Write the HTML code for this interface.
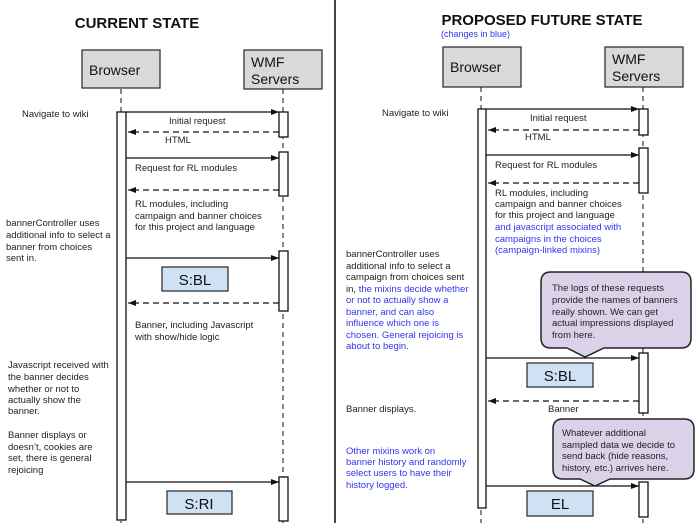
<!DOCTYPE html>
<html><head><meta charset="utf-8"><style>
html,body{margin:0;padding:0;background:#fff;}
svg{display:block;font-family:"Liberation Sans",sans-serif;}
.t{font-size:9.5px;fill:#222;}
.b{font-size:9.5px;fill:#3333ee;}
</style></head><body>
<svg width="700" height="523" viewBox="0 0 700 523" xmlns="http://www.w3.org/2000/svg">
<defs>
<marker id="ah" markerWidth="8" markerHeight="6" refX="8" refY="3" orient="auto" markerUnits="userSpaceOnUse"><path d="M0,0 L8,3 L0,6 z" fill="#111"/></marker>
</defs>
<line x1="335" y1="0" x2="335" y2="523" stroke="#444" stroke-width="2"/>

<!-- LEFT -->
<text x="137" y="28" text-anchor="middle" font-size="15" font-weight="bold" fill="#111">CURRENT STATE</text>
<rect x="82" y="50" width="78" height="38" fill="#d9d9d9" stroke="#333" stroke-width="1.3"/>
<text x="89" y="75" font-size="14" fill="#111">Browser</text>
<rect x="244" y="50" width="78" height="39" fill="#d9d9d9" stroke="#333" stroke-width="1.3"/>
<text x="251" y="67" font-size="14" fill="#111">WMF</text>
<text x="251" y="84" font-size="14" fill="#111">Servers</text>
<line x1="121" y1="89" x2="121" y2="523" stroke="#111" stroke-dasharray="5,4"/>
<line x1="283" y1="89" x2="283" y2="523" stroke="#111" stroke-dasharray="5,4"/>
<rect x="117" y="112" width="9" height="408" fill="#fff" stroke="#111" stroke-width="1.3"/>
<rect x="279" y="112" width="9" height="25" fill="#fff" stroke="#111" stroke-width="1.3"/>
<rect x="279" y="152" width="9" height="44" fill="#fff" stroke="#111" stroke-width="1.3"/>
<rect x="279" y="251" width="9" height="60" fill="#fff" stroke="#111" stroke-width="1.3"/>
<rect x="279" y="477" width="9" height="44" fill="#fff" stroke="#111" stroke-width="1.3"/>

<line x1="126" y1="112" x2="279" y2="112" stroke="#111" stroke-width="1.3" marker-end="url(#ah)"/>
<line x1="279" y1="132" x2="128" y2="132" stroke="#111" stroke-width="1.3" stroke-dasharray="6,4" marker-end="url(#ah)"/>
<line x1="126" y1="158" x2="279" y2="158" stroke="#111" stroke-width="1.3" marker-end="url(#ah)"/>
<line x1="279" y1="190" x2="128" y2="190" stroke="#111" stroke-width="1.3" stroke-dasharray="6,4" marker-end="url(#ah)"/>
<line x1="126" y1="258" x2="279" y2="258" stroke="#111" stroke-width="1.3" marker-end="url(#ah)"/>
<line x1="279" y1="303" x2="128" y2="303" stroke="#111" stroke-width="1.3" stroke-dasharray="6,4" marker-end="url(#ah)"/>
<line x1="126" y1="482" x2="279" y2="482" stroke="#111" stroke-width="1.3" marker-end="url(#ah)"/>

<text class="t" x="22" y="117">Navigate to wiki</text>
<text class="t" x="169" y="124">Initial request</text>
<text class="t" x="165" y="143">HTML</text>
<text class="t" x="135" y="171">Request for RL modules</text>
<text class="t" x="135" y="207">RL modules, including</text>
<text class="t" x="135" y="219">campaign and banner choices</text>
<text class="t" x="135" y="230">for this project and language</text>
<text class="t" x="6" y="226">bannerController uses</text>
<text class="t" x="6" y="238">additional info to select a</text>
<text class="t" x="6" y="250">banner from choices</text>
<text class="t" x="6" y="261">sent in.</text>
<rect x="162" y="267" width="66" height="24" fill="#cfe2f3" stroke="#333" stroke-width="1.3"/>
<text x="195" y="285" text-anchor="middle" font-size="15" fill="#111">S:BL</text>
<text class="t" x="135" y="328">Banner, including Javascript</text>
<text class="t" x="135" y="340">with show/hide logic</text>
<text class="t" x="8" y="368">Javascript received with</text>
<text class="t" x="8" y="380">the banner decides</text>
<text class="t" x="8" y="392">whether or not to</text>
<text class="t" x="8" y="403">actually show the</text>
<text class="t" x="8" y="414">banner.</text>
<text class="t" x="8" y="438">Banner displays or</text>
<text class="t" x="8" y="450">doesn’t, cookies are</text>
<text class="t" x="8" y="461">set, there is general</text>
<text class="t" x="8" y="473">rejoicing</text>
<rect x="167" y="491" width="65" height="23" fill="#cfe2f3" stroke="#333" stroke-width="1.3"/>
<text x="199" y="509" text-anchor="middle" font-size="15" fill="#111">S:RI</text>

<!-- RIGHT -->
<text x="542" y="25" text-anchor="middle" font-size="15" font-weight="bold" fill="#111">PROPOSED FUTURE STATE</text>
<text x="441" y="37" font-size="9" fill="#3333ee">(changes in blue)</text>
<rect x="443" y="47" width="78" height="40" fill="#d9d9d9" stroke="#333" stroke-width="1.3"/>
<text x="450" y="72" font-size="14" fill="#111">Browser</text>
<rect x="605" y="47" width="78" height="40" fill="#d9d9d9" stroke="#333" stroke-width="1.3"/>
<text x="612" y="64" font-size="14" fill="#111">WMF</text>
<text x="612" y="81" font-size="14" fill="#111">Servers</text>
<line x1="481" y1="87" x2="481" y2="523" stroke="#111" stroke-dasharray="5,4"/>
<line x1="643" y1="87" x2="643" y2="523" stroke="#111" stroke-dasharray="5,4"/>
<rect x="478" y="109" width="8" height="399" fill="#fff" stroke="#111" stroke-width="1.3"/>
<rect x="639" y="109" width="9" height="26" fill="#fff" stroke="#111" stroke-width="1.3"/>
<rect x="639" y="148" width="9" height="45" fill="#fff" stroke="#111" stroke-width="1.3"/>
<rect x="639" y="353" width="9" height="60" fill="#fff" stroke="#111" stroke-width="1.3"/>
<rect x="639" y="482" width="9" height="35" fill="#fff" stroke="#111" stroke-width="1.3"/>

<line x1="486" y1="109" x2="639" y2="109" stroke="#111" stroke-width="1.3" marker-end="url(#ah)"/>
<line x1="639" y1="130" x2="488" y2="130" stroke="#111" stroke-width="1.3" stroke-dasharray="6,4" marker-end="url(#ah)"/>
<line x1="486" y1="155" x2="639" y2="155" stroke="#111" stroke-width="1.3" marker-end="url(#ah)"/>
<line x1="639" y1="183" x2="488" y2="183" stroke="#111" stroke-width="1.3" stroke-dasharray="6,4" marker-end="url(#ah)"/>
<line x1="486" y1="358" x2="639" y2="358" stroke="#111" stroke-width="1.3" marker-end="url(#ah)"/>
<line x1="639" y1="401" x2="488" y2="401" stroke="#111" stroke-width="1.3" stroke-dasharray="6,4" marker-end="url(#ah)"/>
<line x1="486" y1="486" x2="639" y2="486" stroke="#111" stroke-width="1.3" marker-end="url(#ah)"/>

<text class="t" x="382" y="116">Navigate to wiki</text>
<text class="t" x="530" y="121">Initial request</text>
<text class="t" x="525" y="140">HTML</text>
<text class="t" x="495" y="168">Request for RL modules</text>
<text class="t" x="495" y="196">RL modules, including</text>
<text class="t" x="495" y="207">campaign and banner choices</text>
<text class="t" x="495" y="218">for this project and language</text>
<text class="b" x="495" y="230">and javascript associated with</text>
<text class="b" x="495" y="242">campaigns in the choices</text>
<text class="b" x="495" y="253">(campaign-linked mixins)</text>

<text class="t" x="346" y="257">bannerController uses</text>
<text class="t" x="346" y="269">additional info to select a</text>
<text class="t" x="346" y="280">campaign from choices sent</text>
<text x="346" y="292" font-size="9.5"><tspan fill="#222">in, </tspan><tspan fill="#3333ee">the mixins decide whether</tspan></text>
<text class="b" x="346" y="303">or not to actually show a</text>
<text class="b" x="346" y="315">banner, and can also</text>
<text class="b" x="346" y="326">influence which one is</text>
<text class="b" x="346" y="338">chosen. General rejoicing is</text>
<text class="b" x="346" y="349">about to begin.</text>

<path d="M551,272 H681 Q691,272 691,282 V338 Q691,348 681,348 H604 L585,357 L567,348 H551 Q541,348 541,338 V282 Q541,272 551,272 Z" fill="#d9d2e9" stroke="#222" stroke-width="1.5"/>
<text class="t" x="552" y="291">The logs of these requests</text>
<text class="t" x="552" y="303">provide the names of banners</text>
<text class="t" x="552" y="315">really shown. We can get</text>
<text class="t" x="552" y="326">actual impressions displayed</text>
<text class="t" x="552" y="338">from here.</text>

<rect x="527" y="363" width="66" height="24" fill="#cfe2f3" stroke="#333" stroke-width="1.3"/>
<text x="560" y="381" text-anchor="middle" font-size="15" fill="#111">S:BL</text>
<text class="t" x="548" y="412">Banner</text>
<text class="t" x="346" y="412">Banner displays.</text>

<path d="M563,419 H684 Q694,419 694,429 V469 Q694,479 684,479 H610 L595,486 L580,479 H563 Q553,479 553,469 V429 Q553,419 563,419 Z" fill="#d9d2e9" stroke="#222" stroke-width="1.5"/>
<text class="t" x="562" y="436">Whatever additional</text>
<text class="t" x="562" y="448">sampled data we decide to</text>
<text class="t" x="562" y="459">send back (hide reasons,</text>
<text class="t" x="562" y="471">history, etc.) arrives here.</text>

<text class="b" x="346" y="454">Other mixins work on</text>
<text class="b" x="346" y="465">banner history and randomly</text>
<text class="b" x="346" y="476">select users to have their</text>
<text class="b" x="346" y="488">history logged.</text>

<rect x="527" y="491" width="66" height="25" fill="#cfe2f3" stroke="#333" stroke-width="1.3"/>
<text x="560" y="509" text-anchor="middle" font-size="15" fill="#111">EL</text>
</svg>
</body></html>
